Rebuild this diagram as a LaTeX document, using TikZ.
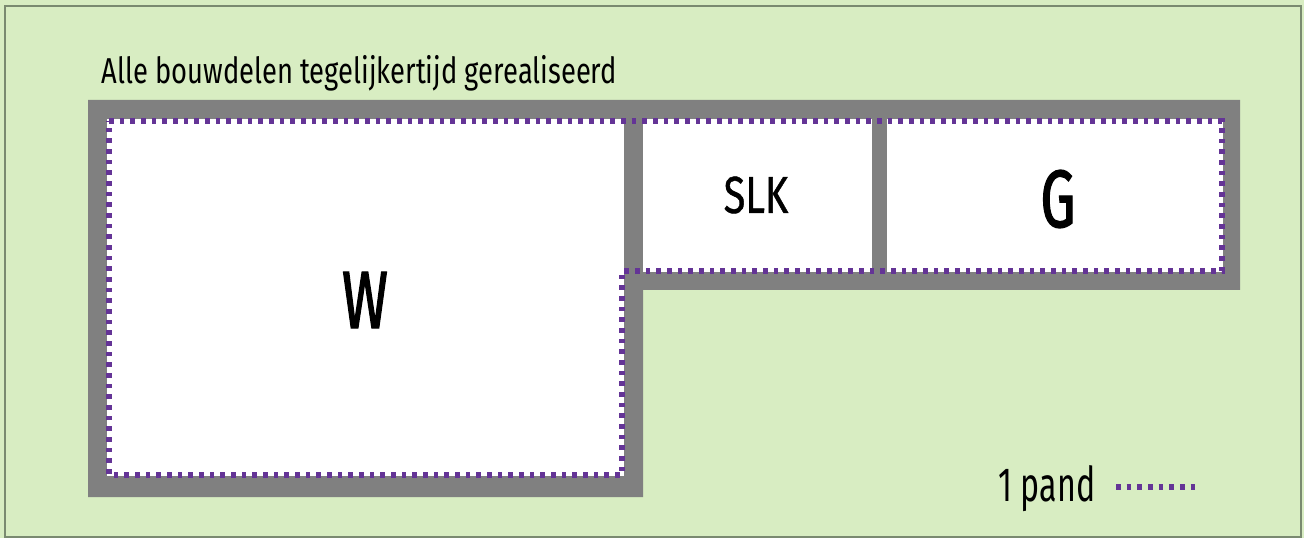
\documentclass[tikz,border=0pt]{standalone}
\usepackage{fontspec}
\newfontfamily\dinfont[FakeStretch=0.76]{Fira Sans}
\newfontfamily\dinsmal[FakeStretch=0.67]{Fira Sans}
\newfontfamily\dinvet[FakeStretch=0.68,FakeBold=1.6]{Fira Sans}
\newfontfamily\dinhalf[FakeStretch=0.76,FakeBold=0.8]{Fira Sans}
\definecolor{bgGreen}{RGB}{216,237,194}
\definecolor{frameGray}{RGB}{122,138,112}
\definecolor{wallGray}{RGB}{128,128,128}
\definecolor{pandPurple}{RGB}{100,52,150}

\tikzset{every picture/.style={line width=0.75pt}}
\tikzset{
  wall/.style={fill=wallGray},
  room/.style={fill=white},
  pand/.style={draw=pandPurple, line width=4pt, dash pattern=on 3.6pt off 4.4pt},
  bignaam/.style={inner sep=0pt, font=\dinvet\fontsize{61}{66}\selectfont},
  naam/.style={inner sep=0pt, font=\dinhalf\fontsize{39}{44}\selectfont},
  tekst/.style={inner sep=0pt, font=\dinfont\fontsize{27}{30}\selectfont}
}

\begin{document}
\begin{tikzpicture}[x=0.75pt,y=0.75pt,yscale=-1,xscale=1]
\useasboundingbox (0,0) rectangle (1304,538);

%Shape: Rectangle [background]
\fill [bgGreen] (0,0) rectangle (1304,538);
\draw [frameGray, line width=1.2pt] (5,6) rectangle (1301,537);

%Shape: Polygon [walls]
\fill [wall] (88,100) -- (1240,100) -- (1240,290) -- (643,290) -- (643,497) -- (88,497) -- cycle;
%Shape: Rectangle [W]
\fill [room] (107,119) rectangle (624,476);
%Shape: Rectangle [SLK]
\fill [room] (643,119) rectangle (872,272);
%Shape: Rectangle [G]
\fill [room] (887,119) rectangle (1223,272);

%Straight Lines [outline]
\draw [pand] (109,121) -- (1222,121) -- (1222,271) -- (622,271) -- (622,475) -- (109,475) -- cycle;

% Text Node
\node [tekst, anchor=base west] (kop) at (101,84) {Alle bouwdelen tegelijkertijd gerealiseerd};
% Text Node
\node [bignaam] (w) at (365,300) {W};
% Text Node
\node [naam] (slk) at (756,195) {SLK};
% Text Node
\node [bignaam] (g) at (1058,199) {G};

% Text Node
\node [tekst, font=\dinsmal\fontsize{36}{40}\selectfont, anchor=base west] (pand) at (998,501) {1 pand};
%Straight Lines [legend]
\draw [pand] (1116,487) -- (1199,487);

\end{tikzpicture}
\end{document}
